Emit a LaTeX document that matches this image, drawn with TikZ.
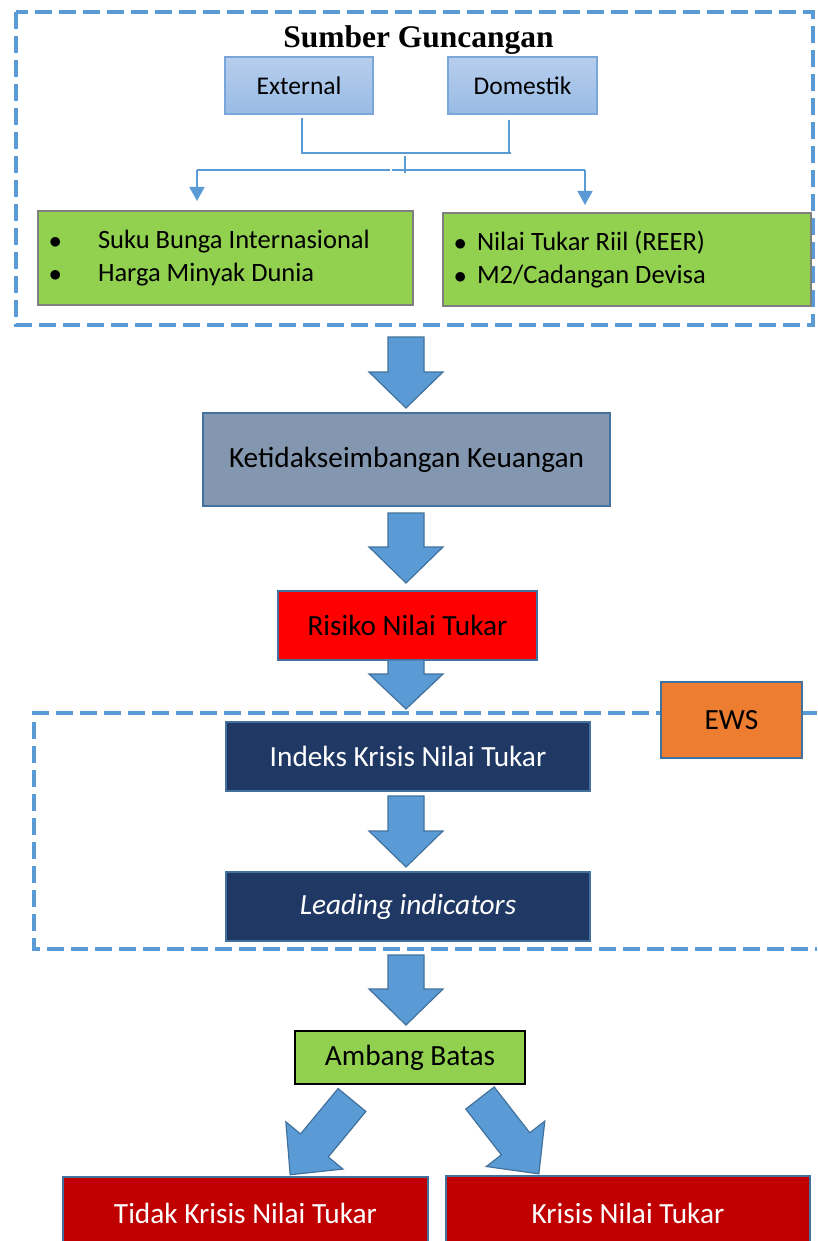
\documentclass[tikz,border=0pt]{standalone}
\usepackage{fontspec}
\setmainfont{Carlito}
\newfontfamily\titlefont{Liberation Serif}
\usetikzlibrary{calc,arrows.meta}
\definecolor{dashblue}{HTML}{5B9BD5}
\definecolor{arrfill}{HTML}{5B9BD5}
\definecolor{arrborder}{HTML}{41719C}
\definecolor{greenfill}{HTML}{92D050}
\definecolor{greyborder}{HTML}{7F7F7F}
\definecolor{navyfill}{HTML}{203864}
\definecolor{slatefill}{HTML}{8497B0}
\definecolor{orangefill}{HTML}{ED7D31}
\definecolor{darkredfill}{HTML}{C00000}
\definecolor{srctop}{HTML}{B7CEEC}
\definecolor{srcbottom}{HTML}{98BBE5}
\definecolor{srcborder}{HTML}{7AA6DB}
\definecolor{boxborder}{HTML}{41719C}
\newcommand\blockarr[4]{%
  \begin{scope}[shift={(#1)},rotate=#2]
    \draw[barrow] (0,18) -- ({#3-#4},18) -- ({#3-#4},37) -- (#3,0) -- ({#3-#4},-37) -- ({#3-#4},-18) -- (0,-18) -- cycle;
  \end{scope}}
\begin{document}
\begin{tikzpicture}[x=1pt,y=-1pt,
  box/.style={draw=boxborder, line width=1.5pt, inner sep=0pt, font=\fontsize{29.3}{35}\selectfont},
  srcbox/.style={draw=srcborder, line width=1.2pt, top color=srctop, bottom color=srcbottom, inner sep=0pt, font=\fontsize{25.5}{30}\selectfont},
  greenbox/.style={draw=greyborder, fill=greenfill, line width=2pt, inner ysep=0pt, align=flush left, font=\fontsize{26.5}{33}\selectfont},
  barrow/.style={fill=arrfill, draw=arrborder, line width=1.2pt, line join=miter},
  dashbox/.style={draw=dashblue, line width=4.5pt, dash pattern=on 17pt off 7pt},
  conn/.style={draw=dashblue, line width=1.5pt},
  connarrow/.style={conn, -{Triangle[width=15pt,length=14pt]}},
  ]
\useasboundingbox (0,0) rectangle (817,1241);
\clip (0,0) rectangle (817,1241);
\fill[white] (0,0) rectangle (817,1241);

% top dashed frame
\draw[dashbox] (16,12) rectangle (813,325);
\node[font=\titlefont\bfseries\fontsize{31.5}{36}\selectfont, anchor=base] (title) at (418.5,48) {Sumber Guncangan};

\node[srcbox, minimum width=148pt, minimum height=57pt] (ext) at (299,85.5) {External};
\node[srcbox, minimum width=149pt, minimum height=57pt] (dom) at (522.5,85.5) {Domestik};

\coordinate (e1) at (302,118);
\coordinate (d1) at (509,120);
\coordinate (j1) at (302,153);
\coordinate (j2) at (511,153);
\coordinate (t1) at (405,156);
\coordinate (t2) at (405,173);
\coordinate (h1) at (197,170);
\coordinate (g1) at (390,170);
\coordinate (g2) at (392,170);
\coordinate (h2) at (585,170);
\coordinate (h1t) at (197,201);
\coordinate (h2t) at (585,205);
\draw[conn] (e1) -- (j1) -- (j2);
\draw[conn] (d1) -- (d1 |- j1);
\draw[conn] (t1) -- (t2);
\draw[conn] (h1) -- (g1);
\draw[conn] (g2) -- (h2);
\draw[connarrow] (h1) -- (h1t);
\draw[connarrow] (h2) -- (h2t);

\node[greenbox, minimum width=375pt, minimum height=94pt, text width=355pt, inner xsep=10pt] (lb) at (225.5,258)
  {\makebox[50pt][l]{\hspace{1pt}$\bullet$}Suku Bunga Internasional\\\makebox[50pt][l]{\hspace{1pt}$\bullet$}Harga Minyak Dunia};
\node[greenbox, minimum width=368pt, minimum height=93pt, text width=346pt, inner xsep=11pt] (rb) at (627,259.5)
  {\makebox[23pt][l]{$\bullet$}Nilai Tukar Riil (REER)\\\makebox[23pt][l]{$\bullet$}M2/Cadangan Devisa};

% main flow
\node[box, fill=slatefill, minimum width=407pt, minimum height=93pt] (ket) at (406.5,459.5) {Ketidakseimbangan Keuangan};
\node[box, fill=red, minimum width=259pt, minimum height=69pt] (ris) at (407.5,625.5) {Risiko Nilai Tukar};

\draw[dashbox] (817,713) -- (34,713) -- (34,949) -- (817,949);
\node[box, fill=orangefill, minimum width=141pt, minimum height=76pt] (ews) at (731.5,720) {EWS};
\node[box, fill=navyfill, text=white, minimum width=364pt, minimum height=69pt] (idx) at (408,756.5) {Indeks Krisis Nilai Tukar};
\node[box, fill=navyfill, text=white, minimum width=364pt, minimum height=69pt] (lead) at (408,906.5) {\itshape Leading indicators};

\node[box, draw=black, fill=greenfill, minimum width=230pt, minimum height=53pt] (amb) at (410,1057.5) {Ambang Batas};
\node[box, fill=darkredfill, text=white, minimum width=365pt, minimum height=73pt] (tidak) at (245.5,1213.5) {Tidak Krisis Nilai Tukar};
\node[box, fill=darkredfill, text=white, minimum width=364pt, minimum height=74pt] (krisis) at (628,1213) {Krisis Nilai Tukar};

% block arrows
\coordinate (a1) at (406,337);
\coordinate (a2) at (406,513);
\coordinate (a3) at (406,660);
\coordinate (a4) at (406,796);
\coordinate (a5) at (406,955);
\coordinate (a6) at (352,1100);
\coordinate (a7) at (480,1098);
\blockarr{a1}{-90}{71}{36}
\blockarr{a2}{-90}{70}{36}
\blockarr{a3}{-90}{49}{35}
\blockarr{a4}{-90}{71}{36}
\blockarr{a5}{-90}{70}{36}
\blockarr{a6}{-129.6}{97}{38}
\blockarr{a7}{-52.2}{96}{38}
\end{tikzpicture}
\end{document}
